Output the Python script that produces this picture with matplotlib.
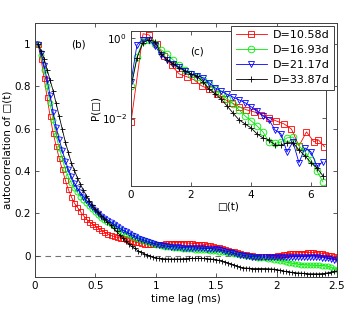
import numpy as np
import matplotlib
matplotlib.use("Agg")
import matplotlib.pyplot as plt

# ---------------- data ----------------
labels = ["D=10.58d", "D=16.93d", "D=21.17d", "D=33.87d"]
colors = ["#ff0000", "#00ee00", "#0000ff", "#000000"]
markers = ["s", "o", "v", "+"]

lag_ms = np.round(np.arange(1, 101) * 0.025, 3)

ac_red = [1.0, 0.93, 0.84, 0.75, 0.66, 0.58, 0.52, 0.46, 0.41, 0.36,
          0.315, 0.28, 0.25, 0.23, 0.21, 0.19, 0.175, 0.16, 0.15, 0.14,
          0.13, 0.12, 0.112, 0.104, 0.097, 0.092, 0.088, 0.085, 0.082, 0.078,
          0.074, 0.07, 0.066, 0.063, 0.06, 0.058, 0.056, 0.055, 0.055, 0.056,
          0.057, 0.058, 0.059, 0.06, 0.061, 0.062, 0.062, 0.062, 0.062, 0.061,
          0.06, 0.059, 0.058, 0.057, 0.056, 0.054, 0.052, 0.05, 0.047, 0.044,
          0.041, 0.037, 0.033, 0.029, 0.025, 0.021, 0.017, 0.013, 0.01, 0.007,
          0.004, 0.002, 0.0, -0.001, -0.002, -0.002, -0.001, 0.0, 0.001, 0.003,
          0.005, 0.007, 0.009, 0.011, 0.012, 0.013, 0.014, 0.015, 0.015, 0.016,
          0.016, 0.016, 0.015, 0.014, 0.012, 0.01, 0.006, 0.002, -0.002, -0.005]
ac_green = [1.0, 0.95, 0.88, 0.8, 0.72, 0.64, 0.57, 0.51, 0.46, 0.41,
            0.375, 0.345, 0.32, 0.3, 0.28, 0.265, 0.25, 0.235, 0.22, 0.205,
            0.192, 0.18, 0.17, 0.16, 0.15, 0.14, 0.13, 0.12, 0.112, 0.105,
            0.097, 0.09, 0.085, 0.08, 0.075, 0.07, 0.065, 0.06, 0.056, 0.052,
            0.049, 0.047, 0.044, 0.042, 0.04, 0.038, 0.037, 0.035, 0.034, 0.033,
            0.031, 0.03, 0.029, 0.028, 0.028, 0.027, 0.026, 0.025, 0.024, 0.022,
            0.02, 0.018, 0.016, 0.014, 0.012, 0.01, 0.007, 0.005, 0.002, 0.0,
            -0.003, -0.005, -0.007, -0.009, -0.011, -0.012, -0.014, -0.016, -0.018, -0.02,
            -0.023, -0.026, -0.029, -0.032, -0.035, -0.037, -0.039, -0.041, -0.042, -0.043,
            -0.044, -0.044, -0.045, -0.045, -0.046, -0.047, -0.05, -0.054, -0.06, -0.065]
ac_blue = [1.0, 0.96, 0.9, 0.83, 0.76, 0.68, 0.61, 0.55, 0.5, 0.45,
           0.41, 0.375, 0.345, 0.32, 0.3, 0.28, 0.262, 0.245, 0.23, 0.215,
           0.202, 0.19, 0.18, 0.17, 0.16, 0.15, 0.14, 0.13, 0.122, 0.115,
           0.107, 0.1, 0.092, 0.085, 0.08, 0.075, 0.07, 0.065, 0.06, 0.056,
           0.053, 0.05, 0.047, 0.045, 0.043, 0.042, 0.041, 0.04, 0.039, 0.038,
           0.038, 0.037, 0.036, 0.036, 0.035, 0.035, 0.034, 0.034, 0.033, 0.032,
           0.03, 0.027, 0.023, 0.02, 0.016, 0.012, 0.008, 0.005, 0.002, 0.0,
           -0.002, -0.004, -0.005, -0.005, -0.006, -0.006, -0.006, -0.006, -0.006, -0.006,
           -0.006, -0.006, -0.006, -0.006, -0.005, -0.005, -0.005, -0.005, -0.005, -0.005,
           -0.005, -0.005, -0.006, -0.007, -0.008, -0.01, -0.012, -0.015, -0.018, -0.02]
ac_black = [1.0, 0.97, 0.93, 0.88, 0.83, 0.78, 0.72, 0.66, 0.6, 0.54,
            0.49, 0.44, 0.405, 0.37, 0.34, 0.31, 0.285, 0.26, 0.24, 0.22,
            0.205, 0.19, 0.175, 0.16, 0.145, 0.13, 0.115, 0.1, 0.085, 0.07,
            0.057, 0.045, 0.035, 0.025, 0.017, 0.01, 0.005, 0.0, -0.005, -0.01,
            -0.012, -0.013, -0.014, -0.015, -0.015, -0.015, -0.015, -0.015, -0.014, -0.013,
            -0.012, -0.012, -0.012, -0.012, -0.012, -0.012, -0.013, -0.015, -0.016, -0.018,
            -0.022, -0.026, -0.03, -0.035, -0.04, -0.045, -0.05, -0.055, -0.057, -0.058,
            -0.059, -0.06, -0.06, -0.06, -0.06, -0.06, -0.061, -0.062, -0.063, -0.065,
            -0.068, -0.071, -0.074, -0.076, -0.078, -0.08, -0.081, -0.082, -0.083, -0.084,
            -0.085, -0.085, -0.085, -0.085, -0.084, -0.083, -0.08, -0.077, -0.074, -0.072]

# inset: distributions P(theta), stored as log10 values
theta_red = [0, 0.4, 0.6, 0.85, 1.1, 1.35, 1.6, 1.85, 2.1, 2.35, 2.6, 2.85, 3.1,
             3.35, 3.6, 3.85, 4.1, 4.35, 4.6, 4.85, 5.1, 5.35, 5.6, 5.85, 6.1, 6.25, 6.45]
logP_red = [-2.1, 0.1, 0.07, -0.15, -0.45, -0.69, -0.9, -0.97, -1.05, -1.2, -1.28, -1.4, -1.53,
            -1.62, -1.72, -1.8, -1.85, -1.92, -2.0, -2.08, -2.15, -2.28, -2.7, -2.35, -2.6, -2.55, -2.72]
theta_grid = np.round(np.arange(0, 33) * 0.2, 2)
logP_green = [-1.2, -0.47, -0.07, -0.05, -0.15, -0.3, -0.4, -0.55, -0.68, -0.8, -0.9,
              -0.98, -1.05, -1.15, -1.28, -1.4, -1.52, -1.65, -1.8, -1.95, -2.07, -2.2,
              -2.35, -2.6, -2.64, -2.6, -2.5, -2.48, -2.7, -2.85, -3.05, -3.33, -3.6]
logP_blue = [-1.1, -0.17, -0.05, -0.06, -0.2, -0.42, -0.55, -0.65, -0.73, -0.82, -0.9,
             -0.95, -1.0, -1.12, -1.25, -1.33, -1.41, -1.48, -1.55, -1.62, -1.72, -1.82,
             -1.95, -2.05, -2.3, -2.4, -2.85, -2.6, -3.12, -2.75, -2.85, -3.2, -3.1]
logP_black = [-1.23, -0.5, -0.12, -0.05, -0.1, -0.4, -0.55, -0.65, -0.75, -0.83, -0.9,
              -0.96, -1.1, -1.28, -1.4, -1.53, -1.7, -1.88, -2.05, -2.15, -2.25, -2.4,
              -2.5, -2.55, -2.68, -2.68, -2.62, -2.62, -2.8, -2.95, -3.12, -3.25, -3.45]

# ---------------- figure ----------------
plt.rcParams["font.family"] = ["DejaVu Sans"]
fig = plt.figure(figsize=(3.59, 3.12), dpi=100)
spine_c = "0.25"

ax = fig.add_axes([0.0975, 0.1122, 0.8412, 0.8141])
ax.axhline(0, color="0.45", ls=(0, (5, 4)), lw=0.8, zorder=1)
main_series = [ac_red, ac_green, ac_blue, ac_black]
handles = []
for vals, c, m, lab in zip(main_series, colors, markers, labels):
    h, = ax.plot(lag_ms, vals, color=c, marker=m, ms=3.6, mfc="none", mew=0.6,
                 lw=0.6, label=lab, zorder=2)
    handles.append(h)
ax.set_xlim(0, 2.5)
ax.set_ylim(-0.1, 1.1)
ax.set_xticks([0, 0.5, 1, 1.5, 2, 2.5])
ax.set_xticklabels(["0", "0.5", "1", "1.5", "2", "2.5"])
ax.set_yticks([0, 0.2, 0.4, 0.6, 0.8, 1])
ax.set_yticklabels(["0", "0.2", "0.4", "0.6", "0.8", "1"])
ax.tick_params(direction="in", top=True, right=True, labelsize=7.5, length=3,
               width=0.6, color=spine_c, pad=3)
for s in ax.spines.values():
    s.set_color(spine_c)
    s.set_linewidth(0.7)
ax.set_xlabel("time lag (ms)", fontsize=7.5, labelpad=2)
ax.set_ylabel("autocorrelation of \u25a1(t)", fontsize=7.5, labelpad=1)
ax.text(0.36, 1.0, "(b)", fontsize=7.5, ha="center", va="center")

# inset
ins = fig.add_axes([0.365, 0.404, 0.543, 0.4968])
ins.set_yscale("log")
inset_x = [theta_red, theta_grid, theta_grid, theta_grid]
inset_y = [logP_red, logP_green, logP_blue, logP_black]
for xs, ly, c, m in zip(inset_x, inset_y, colors, markers):
    ins.plot(xs, 10 ** np.asarray(ly), color=c, marker=m, ms=4.8, mfc="none",
             mew=0.6, lw=0.6)
ins.set_xlim(0, 6.5)
ins.set_ylim(10 ** -3.7, 10 ** 0.17)
ins.set_xticks([0, 2, 4, 6])
ins.set_yticks([1e-2, 1e0])
ins.minorticks_off()
ins.tick_params(direction="in", top=True, right=True, labelsize=7.5, length=3,
                width=0.6, color=spine_c, pad=3)
for s in ins.spines.values():
    s.set_color(spine_c)
    s.set_linewidth(0.7)
ins.set_xlabel("\u25a1(t)", fontsize=7.5, labelpad=1)
ins.set_ylabel("P(\u25a1)", fontsize=7.5, labelpad=1)
ins.text(2.2, 10 ** -0.35, "(c)", fontsize=7.5, ha="center", va="center")

leg = fig.legend(handles=handles, loc="upper right", bbox_to_anchor=(0.930, 0.917),
                 fontsize=8, handlelength=2.8, handletextpad=0.5, borderpad=0.4,
                 labelspacing=0.45, fancybox=False, framealpha=1, borderaxespad=0)
leg.get_frame().set_edgecolor(spine_c)
leg.get_frame().set_linewidth(0.7)
for lh in leg.legend_handles:
    lh.set_markersize(4.8)

fig.savefig("out.png", dpi=100)
